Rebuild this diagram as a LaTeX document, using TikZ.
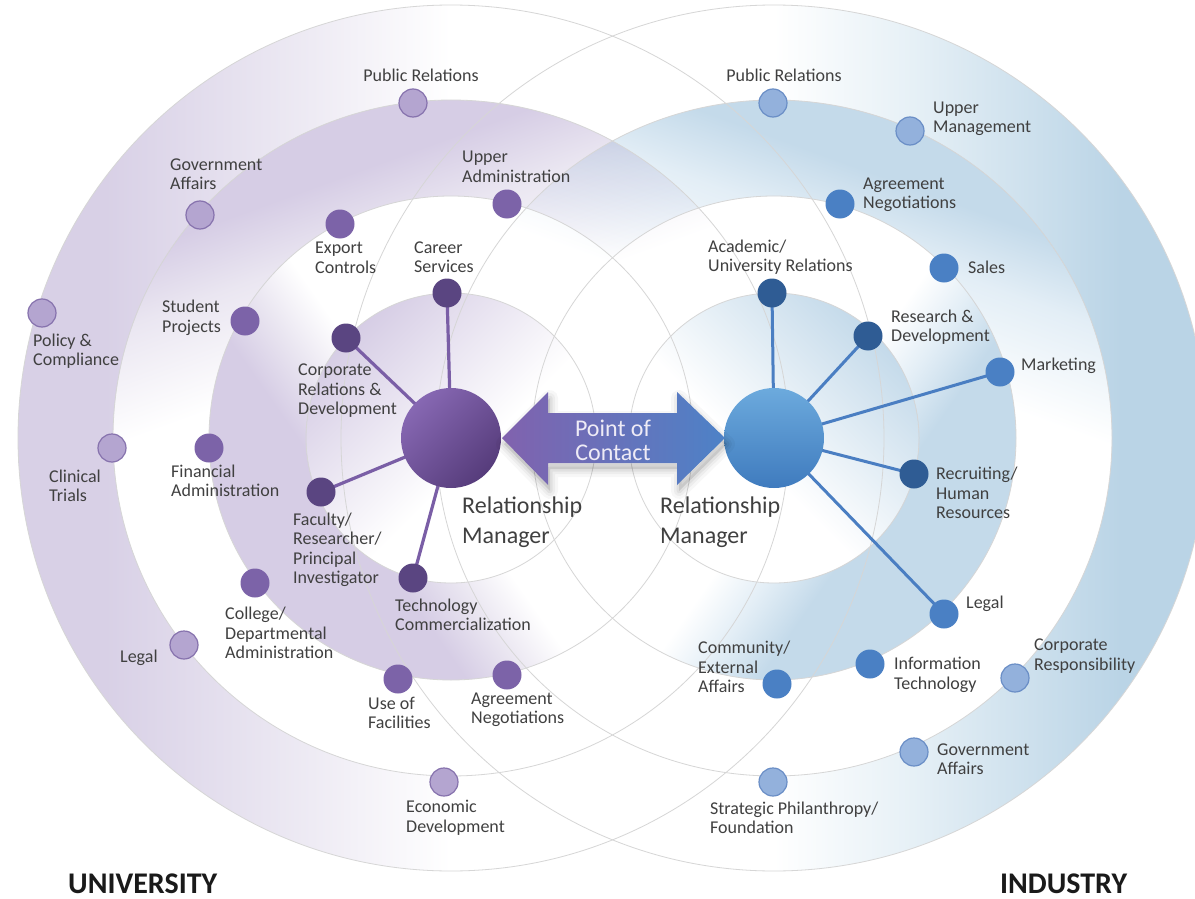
\documentclass[tikz,border=0pt]{standalone}
\usepackage{fontspec}
\setmainfont{Carlito}
\usetikzlibrary{calc}

\definecolor{labelgray}{HTML}{404040}
\definecolor{headblack}{HTML}{1A1A1A}
\definecolor{ringline}{HTML}{D6D6D6}
% lavender tones of the university rings
\definecolor{lavBand}{HTML}{D6CDE5}
\definecolor{lavSoft}{HTML}{EAE6F1}
\definecolor{lavOuter}{HTML}{D8D0E6}
\definecolor{lavOuterSoft}{HTML}{EEEBF4}
% blue tones of the industry rings
\definecolor{bluBand}{HTML}{C4DAEA}
\definecolor{bluSoft}{HTML}{E3EEF6}
\definecolor{bluOuter}{HTML}{BAD4E6}
\definecolor{bluOuterSoft}{HTML}{E6F0F6}
% dots, hubs and spokes
\definecolor{uniDark}{HTML}{5A4581}
\definecolor{uniMid}{HTML}{7C63A8}
\definecolor{uniLight}{HTML}{B4A5D0}
\definecolor{uniLightEdge}{HTML}{8672AD}
\definecolor{uniLine}{HTML}{7A5EA6}
\definecolor{uniHubA}{HTML}{8768B3}
\definecolor{uniHubB}{HTML}{563C7B}
\definecolor{indDark}{HTML}{2F5C94}
\definecolor{indMid}{HTML}{4A80C4}
\definecolor{indLight}{HTML}{93B1DC}
\definecolor{indLightEdge}{HTML}{6A8EC6}
\definecolor{indLine}{HTML}{4A7EC2}
\definecolor{indHubA}{HTML}{6CAADD}
\definecolor{indHubB}{HTML}{3F7BBE}
\definecolor{arrowL}{HTML}{8162AE}
\definecolor{arrowR}{HTML}{4D82C7}
\definecolor{pocText}{HTML}{EEEBF6}

% ring shadings (the filled path spans 25bp..75bp of each shading)
\pgfdeclareverticalshading{uniOuter}{100bp}{color(0bp)=(white); color(50bp)=(white); color(58bp)=(lavOuterSoft); color(70bp)=(lavOuter); color(100bp)=(lavOuter)}
\pgfdeclareverticalshading{uniUpper}{100bp}{color(0bp)=(white); color(58bp)=(white); color(66bp)=(lavSoft); color(71bp)=(lavBand); color(100bp)=(lavBand)}
\pgfdeclareverticalshading{uniLower}{100bp}{color(0bp)=(white); color(53bp)=(white); color(58bp)=(lavSoft); color(63bp)=(lavBand); color(100bp)=(lavBand)}
\pgfdeclareverticalshading{uniCore}{100bp}{color(0bp)=(white); color(45bp)=(white); color(75bp)=(lavBand); color(100bp)=(lavBand)}
\pgfdeclareverticalshading{indOuter}{100bp}{color(0bp)=(white); color(50bp)=(white); color(58bp)=(bluOuterSoft); color(70bp)=(bluOuter); color(100bp)=(bluOuter)}
\pgfdeclareverticalshading{indUpper}{100bp}{color(0bp)=(white); color(58bp)=(white); color(66bp)=(bluSoft); color(71bp)=(bluBand); color(100bp)=(bluBand)}
\pgfdeclareverticalshading{indLower}{100bp}{color(0bp)=(white); color(53bp)=(white); color(58bp)=(bluSoft); color(63bp)=(bluBand); color(100bp)=(bluBand)}
\pgfdeclareverticalshading{indCore}{100bp}{color(0bp)=(white); color(45bp)=(white); color(75bp)=(bluBand); color(100bp)=(bluBand)}

\pgfdeclarelayer{bands}
\pgfsetlayers{bands,main}

\begin{document}
\begin{tikzpicture}[x=1pt,y=-1pt,
  hub/.style={circle, minimum size=100pt, inner sep=0pt},
  dot/.style={circle, minimum size=29pt, inner sep=0pt},
  uniDot1/.style={dot, fill=uniDark},
  uniDot2/.style={dot, fill=uniMid},
  uniDot3/.style={dot, fill=uniLight, draw=uniLightEdge, line width=1.2pt, minimum size=28pt},
  indDot1/.style={dot, fill=indDark},
  indDot2/.style={dot, fill=indMid},
  indDot3/.style={dot, fill=indLight, draw=indLightEdge, line width=1.2pt, minimum size=28pt},
  uniSpoke/.style={draw=uniLine, line width=3.2pt},
  indSpoke/.style={draw=indLine, line width=3pt},
  ring/.style={draw=ringline, line width=0.8pt},
  lbl/.style={font=\fontsize{18}{19.5}\selectfont, text=labelgray, align=left, inner sep=0pt, anchor=west},
  rmlbl/.style={font=\fontsize{24}{30}\selectfont, text=labelgray, align=left, inner sep=0pt, anchor=west},
  headlbl/.style={font=\fontsize{30}{32}\selectfont\bfseries, text=headblack, inner sep=0pt, anchor=west},
  poclbl/.style={font=\fontsize{24}{24}\selectfont, text=pocText, align=center, inner sep=0pt}
]
\useasboundingbox (0,0) rectangle (1195,899);
\coordinate (L) at (451,438);
\coordinate (R) at (774,438);

% ---------- shaded rings and guide circles ----------
\begin{pgfonlayer}{bands}
\fill[white] (0,0) rectangle (1195,899);
\begin{scope}
  \clip (0,0) rectangle (1195,899);
  \begin{scope}[blend mode=multiply]
    \shade[shading=uniOuter, shading angle=90, even odd rule] (L) circle[radius=433] (L) circle[radius=338];
    \shade[shading=uniUpper, shading angle=20, even odd rule] (L) circle[radius=338] (L) circle[radius=242];
    \shade[shading=uniLower, shading angle=125, even odd rule] (L) circle[radius=242] (L) circle[radius=145];
    \shade[shading=uniCore, shading angle=45] (L) circle[radius=145];
    \shade[shading=indOuter, shading angle=-90, even odd rule] (R) circle[radius=433] (R) circle[radius=338];
    \shade[shading=indUpper, shading angle=-20, even odd rule] (R) circle[radius=338] (R) circle[radius=242];
    \shade[shading=indLower, shading angle=-125, even odd rule] (R) circle[radius=242] (R) circle[radius=145];
    \shade[shading=indCore, shading angle=-45] (R) circle[radius=145];
  \end{scope}
  \foreach \r in {145,242,338,433} {
    \draw[ring] (L) circle[radius=\r];
    \draw[ring] (R) circle[radius=\r];
  }
\end{scope}
\end{pgfonlayer}

% ---------- university side ----------
\node[hub, top color=uniHubA, bottom color=uniHubB, shading angle=45] (uHub) at (L) {};
\node[uniDot3] (uPR) at (413,103) {};
\node[uniDot3] (uGA) at (200,215) {};
\node[uniDot3] (uPC) at (42,313) {};
\node[uniDot3] (uCT) at (112,448) {};
\node[uniDot3] (uLG) at (184,645) {};
\node[uniDot3] (uED) at (444,782) {};
\node[uniDot2] (uUA) at (507,204) {};
\node[uniDot2] (uEC) at (340,224) {};
\node[uniDot2] (uSP) at (245,321) {};
\node[uniDot2] (uFA) at (209,448) {};
\node[uniDot2] (uCD) at (255,583) {};
\node[uniDot2] (uUF) at (398,679) {};
\node[uniDot2] (uAN) at (507,675) {};
\node[uniDot1] (uCS) at (447,293) {};
\node[uniDot1] (uCR) at (346,338) {};
\node[uniDot1] (uFR) at (321,492) {};
\node[uniDot1] (uTC) at (413,578) {};

% ---------- industry side ----------
\node[hub, top color=indHubA, bottom color=indHubB] (iHub) at (R) {};
\node[indDot3] (iPR) at (773,103) {};
\node[indDot3] (iUM) at (910,131) {};
\node[indDot3] (iCR) at (1015,678) {};
\node[indDot3] (iGA) at (914,752) {};
\node[indDot3] (iSP) at (773,782) {};
\node[indDot2] (iAN) at (840,204) {};
\node[indDot2] (iSA) at (944,268) {};
\node[indDot2] (iMK) at (1000,372) {};
\node[indDot2] (iLG) at (944,614) {};
\node[indDot2] (iIT) at (870,664) {};
\node[indDot2] (iCE) at (777,684) {};
\node[indDot1] (iAU) at (772,293) {};
\node[indDot1] (iRD) at (868,336) {};
\node[indDot1] (iRH) at (914,474) {};

% ---------- spokes ----------
\begin{pgfonlayer}{bands}
  \draw[uniSpoke] (uHub.center) -- (uCS.center);
  \draw[uniSpoke] (uHub.center) -- (uCR.center);
  \draw[uniSpoke] (uHub.center) -- (uFR.center);
  \draw[uniSpoke] (uHub.center) -- (uTC.center);
  \draw[indSpoke] (iHub.center) -- (iAU.center);
  \draw[indSpoke] (iHub.center) -- (iRD.center);
  \draw[indSpoke] (iHub.center) -- (iMK.center);
  \draw[indSpoke] (iHub.center) -- (iRH.center);
  \draw[indSpoke] (iHub.center) -- (iLG.center);
\end{pgfonlayer}

% ---------- point-of-contact double arrow ----------
\begin{scope}[shift={(2,6)}]
  \foreach \w/\o in {16/0.03, 10/0.04, 5/0.05} {
    \draw[black, opacity=\o, line width=\w pt, line join=round]
      (502,438) -- (548,392) -- (548,413) -- (677,413) -- (677,392) -- (725,438)
      -- (677,485) -- (677,463) -- (548,463) -- (548,485) -- cycle;
  }
  \fill[black, opacity=0.10]
      (502,438) -- (548,392) -- (548,413) -- (677,413) -- (677,392) -- (725,438)
      -- (677,485) -- (677,463) -- (548,463) -- (548,485) -- cycle;
\end{scope}
\shade[left color=arrowL, right color=arrowR]
  (502,438) -- (548,392) -- (548,413) -- (677,413) -- (677,392) -- (725,438)
  -- (677,485) -- (677,463) -- (548,463) -- (548,485) -- cycle;
\node[poclbl] (tPoC) at (613,440) {Point of\\Contact};

% ---------- university labels ----------
\node[lbl, anchor=center] (tPRu) at (421,75) {Public Relations};
\node[lbl] (tGAu) at (170,174) {Government\\Affairs};
\node[lbl] (tUAu) at (462,167) {Upper\\Administration};
\node[lbl] (tECu) at (315,258) {Export\\Controls};
\node[lbl] (tCSu) at (414,257) {Career\\Services};
\node[lbl] (tSPu) at (162,318) {Student\\Projects};
\node[lbl] (tPCu) at (33,351) {Policy \&\\Compliance};
\node[lbl] (tCRu) at (298,391) {Corporate\\Relations \&\\Development};
\node[lbl] (tCTu) at (49,486) {Clinical\\Trials};
\node[lbl] (tFAu) at (171,481) {Financial\\Administration};
\node[lbl] (tFRu) at (293,550) {Faculty/\\Researcher/\\Principal\\Investigator};
\node[lbl] (tTCu) at (395,615) {Technology\\Commercialization};
\node[lbl] (tCDu) at (225,633) {College/\\Departmental\\Administration};
\node[lbl] (tLGu) at (120,658) {Legal};
\node[lbl] (tUFu) at (368,713) {Use of\\Facilities};
\node[lbl] (tANu) at (471,710) {Agreement\\Negotiations};
\node[lbl] (tEDu) at (406,818) {Economic\\Development};
\node[rmlbl] (tRMu) at (462,522) {Relationship\\Manager};
\node[headlbl] (tUni) at (68,884) {UNIVERSITY};

% ---------- industry labels ----------
\node[lbl, anchor=center] (tPRi) at (784,75) {Public Relations};
\node[lbl] (tUMi) at (933,119) {Upper\\Management};
\node[lbl] (tANi) at (863,195) {Agreement\\Negotiations};
\node[lbl] (tSAi) at (968,267) {Sales};
\node[lbl] (tAUi) at (708,257) {Academic/\\University Relations};
\node[lbl] (tRDi) at (891,327) {Research \&\\Development};
\node[lbl] (tMKi) at (1021,366) {Marketing};
\node[lbl] (tRHi) at (936,493) {Recruiting/\\Human\\Resources};
\node[lbl] (tLGi) at (966,604) {Legal};
\node[lbl] (tCEi) at (698,667) {Community/\\External\\Affairs};
\node[lbl] (tITi) at (894,675) {Information\\Technology};
\node[lbl] (tCRi) at (1034,656) {Corporate\\Responsibility};
\node[lbl] (tGAi) at (937,759) {Government\\Affairs};
\node[lbl] (tSPi) at (710,818) {Strategic Philanthropy/\\Foundation};
\node[rmlbl] (tRMi) at (660,522) {Relationship\\Manager};
\node[headlbl] (tInd) at (1000,884) {INDUSTRY};
\end{tikzpicture}
\end{document}
